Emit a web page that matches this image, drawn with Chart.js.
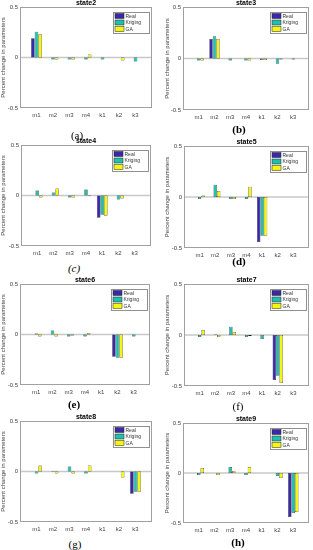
<!DOCTYPE html>
<html>
<head>
<meta charset="utf-8">
<script src="https://cdn.jsdelivr.net/npm/chart.js@4"></script>
<style>
  body { margin: 0; background: #fff; }
  #wrap { position: relative; width: 313px; height: 550px; overflow: hidden; }
  canvas { position: absolute; }
  .cap { position: absolute; width: 40px; margin-left: -20px; text-align: center; z-index: 5;
         font-family: "Liberation Serif", "Times New Roman", serif; font-size: 11px; line-height: 12px; color: #000; }
</style>
</head>
<body>
<div id="wrap"></div>
<script>
// categories and series
const cats = ['m1', 'm2', 'm3', 'm4', 'k1', 'k2', 'k3'];
const seriesNames = ['Real', 'Kriging', 'GA'];
const yTicks = [-0.5, 0, 0.5];

const real2 = [0.19, 0, 0, 0, 0, 0, 0];
const krig2 = [0.255, -0.02, -0.02, -0.02, -0.02, 0, -0.04];
const ga2   = [0.23, -0.02, -0.02, 0.03, 0, -0.03, 0];

const real3 = [0, 0.19, 0, 0, 0, 0, 0];
const krig3 = [-0.02, 0.215, -0.02, -0.02, -0.015, -0.05, -0.01];
const ga3   = [-0.02, 0.19, 0, -0.02, -0.015, -0.01, 0];

const real4 = [0, 0, 0, 0, -0.22, 0, 0];
const krig4 = [0.05, 0.03, -0.02, 0.06, -0.19, -0.04, 0];
const ga4   = [-0.02, 0.07, -0.02, 0.005, -0.2, -0.03, 0];

const real5 = [0, 0, 0, 0, -0.44, 0, 0];
const krig5 = [-0.02, 0.12, -0.02, -0.02, -0.38, 0, 0];
const ga5   = [0.015, 0.06, -0.02, 0.1, -0.38, 0, 0];

const real6 = [0, 0, 0, 0, 0, -0.22, 0];
const krig6 = [0.01, 0.04, -0.02, -0.02, 0, -0.23, -0.02];
const ga6   = [-0.02, -0.02, -0.01, 0.015, 0, -0.23, 0];

const real7 = [0, 0, 0, 0, 0, -0.44, 0];
const krig7 = [-0.02, 0.005, 0.08, -0.02, -0.04, -0.4, 0];
const ga7   = [0.05, -0.02, 0.03, -0.01, 0, -0.47, 0];

const real8 = [0, 0, 0, 0, 0, 0, -0.22];
const krig8 = [-0.02, -0.005, 0.05, -0.02, 0, 0, -0.2];
const ga8   = [0.06, -0.02, -0.02, 0.06, 0, -0.06, -0.2];

const real9 = [0, 0, 0, 0, 0, 0, -0.44];
const krig9 = [-0.02, 0, 0.06, -0.02, 0, -0.03, -0.4];
const ga9   = [0.05, -0.02, 0.02, 0.06, 0, -0.05, -0.39];

const colors = ['#3b28a8', '#22bfad', '#f4f511'];

// panel plot rectangles (page pixels) and captions
const panels = [
  { title: 'state2', data: [real2, krig2, ga2], L: 20,  T: 7,   R: 152, B: 108, cap: '(a)', cx: 77,  cy: 135, cs: 'normal' },
  { title: 'state3', data: [real3, krig3, ga3], L: 183, T: 7,   R: 311, B: 110, cap: '(b)', cx: 239, cy: 129, cs: 'bold' },
  { title: 'state4', data: [real4, krig4, ga4], L: 21,  T: 145, R: 151, B: 246, cap: '(c)', cx: 74,  cy: 268, cs: 'italic' },
  { title: 'state5', data: [real5, krig5, ga5], L: 184, T: 146, R: 312, B: 248, cap: '(d)', cx: 239, cy: 261, cs: 'bold' },
  { title: 'state6', data: [real6, krig6, ga6], L: 20,  T: 284, R: 150, B: 385, cap: '(e)', cx: 74,  cy: 404, cs: 'bold' },
  { title: 'state7', data: [real7, krig7, ga7], L: 184, T: 284, R: 312, B: 386, cap: '(f)', cx: 238, cy: 406, cs: 'normal' },
  { title: 'state8', data: [real8, krig8, ga8], L: 20,  T: 421, R: 152, B: 522, cap: '(g)', cx: 75,  cy: 544, cs: 'normal' },
  { title: 'state9', data: [real9, krig9, ga9], L: 183, T: 423, R: 312, B: 523, cap: '(h)', cx: 238, cy: 542, cs: 'bold' }
];

// box, zero baseline and legend drawn around the plot area
const frame = {
  id: 'frame',
  beforeDatasetsDraw(chart) {
    const { ctx, chartArea: a, scales } = chart;
    const y0 = scales.y.getPixelForValue(0);
    ctx.save();
    ctx.strokeStyle = '#c8c8c8';
    ctx.lineWidth = 1.5;
    ctx.beginPath();
    ctx.moveTo(a.left, y0);
    ctx.lineTo(a.right, y0);
    ctx.stroke();
    ctx.restore();
  },
  afterDraw(chart) {
    const { ctx, chartArea: a } = chart;
    ctx.save();
    ctx.strokeStyle = '#a0a0a0';
    ctx.lineWidth = 1;
    ctx.strokeRect(a.left + 0.5, a.top + 0.5, a.right - a.left - 1, a.bottom - a.top - 1);
    // legend
    const w = 36, h = 21;
    const lx = a.right - 3 - w, ly = a.top + 5;
    ctx.fillStyle = '#fff';
    ctx.fillRect(lx, ly, w, h);
    ctx.strokeStyle = '#909090';
    ctx.strokeRect(lx + 0.5, ly + 0.5, w, h);
    ctx.font = '5px "Liberation Sans", Arial, sans-serif';
    ctx.textBaseline = 'middle';
    seriesNames.forEach((n, i) => {
      const yy = ly + 4 + i * 6.5;
      ctx.fillStyle = colors[i];
      ctx.fillRect(lx + 2, yy - 2.5, 9, 5);
      ctx.strokeStyle = '#222';
      ctx.lineWidth = 0.5;
      ctx.strokeRect(lx + 2, yy - 2.5, 9, 5);
      ctx.fillStyle = '#333';
      ctx.fillText(n, lx + 12.5, yy + 0.5);
    });
    ctx.restore();
  }
};

const wrap = document.getElementById('wrap');
const titleH = 9, xAxisH = 16;

panels.forEach((p, k) => {
  const colX = k % 2 === 0 ? 0 : 156;
  const cw = 157;
  const top = p.T - titleH;
  const ch = (p.B - p.T) + titleH + xAxisH;
  const cv = document.createElement('canvas');
  cv.width = cw; cv.height = ch;
  cv.style.left = colX + 'px';
  cv.style.top = top + 'px';
  cv.style.width = cw + 'px';
  cv.style.height = ch + 'px';
  wrap.appendChild(cv);

  const padL = colX === 0 ? 0 : 8;
  const yW = p.L - colX - padL;
  const padR = cw - (p.R - colX);

  const labels = [''].concat(cats, ['']);
  // zero entries are left out so they draw no edge line
  const datasets = p.data.map((vals, i) => ({
    label: seriesNames[i],
    data: [null].concat(vals.map(v => (v === 0 ? null : v)), [null]),
    backgroundColor: colors[i],
    borderColor: '#1a1a1a',
    borderWidth: 0.5,
    borderSkipped: false,
    categoryPercentage: 0.66,
    barPercentage: 1.0
  }));

  new Chart(cv.getContext('2d'), {
    type: 'bar',
    data: { labels: labels, datasets: datasets },
    plugins: [frame],
    options: {
      responsive: false,
      animation: false,
      devicePixelRatio: 1,
      layout: { padding: { left: padL, right: padR, top: 0, bottom: 0 } },
      plugins: {
        legend: { display: false },
        tooltip: { enabled: false },
        title: {
          display: true,
          text: p.title,
          fullSize: false,
          color: '#000',
          font: { size: 7, weight: 'bold', family: '"Liberation Sans", Arial, sans-serif', lineHeight: 1 },
          padding: { top: 2, bottom: 0 }
        }
      },
      scales: {
        x: {
          type: 'category',
          offset: false,
          grid: { display: false, offset: false, drawTicks: false },
          border: { display: false },
          ticks: {
            autoSkip: false, maxRotation: 0, minRotation: 0, padding: 4,
            color: '#444',
            font: { size: 6, family: '"Liberation Sans", Arial, sans-serif' }
          },
          afterFit: s => { s.height = xAxisH; }
        },
        y: {
          min: yTicks[0],
          max: yTicks[yTicks.length - 1],
          grid: { display: false, drawTicks: false },
          border: { display: false },
          afterBuildTicks: s => { s.ticks = yTicks.map(v => ({ value: v })); },
          ticks: {
            padding: 2,
            color: '#444',
            font: { size: 6, family: '"Liberation Sans", Arial, sans-serif' },
            callback: v => String(v)
          },
          title: {
            display: true,
            text: 'Percent change in parameters',
            color: '#444',
            padding: 0,
            font: { size: 6, family: '"Liberation Sans", Arial, sans-serif', lineHeight: 1.1 }
          },
          afterFit: s => { s.width = yW; }
        }
      }
    }
  });

  const cap = document.createElement('div');
  cap.className = 'cap';
  cap.textContent = p.cap;
  cap.style.left = p.cx + 'px';
  cap.style.top = (p.cy - 6) + 'px';
  if (p.cs === 'bold') cap.style.fontWeight = 'bold';
  if (p.cs === 'italic') cap.style.fontStyle = 'italic';
  wrap.appendChild(cap);
});
</script>
</body>
</html>
